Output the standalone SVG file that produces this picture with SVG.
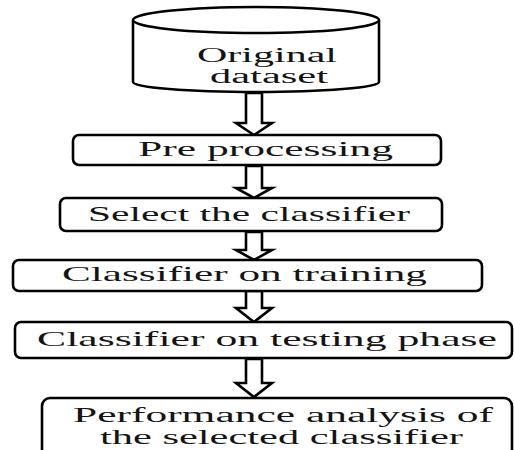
<svg xmlns="http://www.w3.org/2000/svg" width="514" height="450" viewBox="0 0 514 450">
<style>
.box{fill:#fff;stroke:#000;stroke-width:2.6}
.arr{fill:#fff;stroke:#000;stroke-width:2.6;stroke-linejoin:miter}
.t{font-family:"Liberation Serif","Times New Roman",serif;font-size:21px;fill:#141414}
.t2{font-size:20px}
</style>
<rect width="514" height="450" fill="#fff"/>
<g id="original-dataset">
<path class="box" d="M133,20 V82 A123,10 0 0 0 379,82 V20"/>
<ellipse class="box" cx="256" cy="20" rx="123" ry="13"/>
<text class="t t2" x="197" y="62" textLength="140" lengthAdjust="spacingAndGlyphs">Original</text>
<text class="t t2" x="210" y="83" textLength="118" lengthAdjust="spacingAndGlyphs">dataset</text>
</g>
<g id="connectors">
<polygon class="arr" points="246,93 262,93 262,123 272,123 254,135 236,123 246,123"/>
<polygon class="arr" points="246,166 262,166 262,188 272,188 254,198 236,188 246,188"/>
<polygon class="arr" points="246,232 262,232 262,250 272,250 254,260 236,250 246,250"/>
<polygon class="arr" points="246,291 262,291 262,308 272,308 254,322 236,308 246,308"/>
<polygon class="arr" points="246,359 262,359 262,383 272,383 254,397 236,383 246,383"/>
</g>
<g id="pre-processing">
<rect class="box" x="73" y="135" width="368" height="30" rx="6"/>
<text class="t" x="138" y="156" textLength="255" lengthAdjust="spacingAndGlyphs">Pre processing</text>
</g>
<g id="select-classifier">
<rect class="box" x="60" y="198" width="382" height="33" rx="6"/>
<text class="t" x="88" y="221" textLength="322" lengthAdjust="spacingAndGlyphs">Select the classifier</text>
</g>
<g id="classifier-training">
<rect class="box" x="13" y="260" width="469" height="31" rx="6"/>
<text class="t" x="62" y="281" textLength="365" lengthAdjust="spacingAndGlyphs">Classifier on training</text>
</g>
<g id="classifier-testing">
<rect class="box" x="15" y="322" width="497" height="36" rx="6"/>
<text class="t" x="37" y="346" textLength="460" lengthAdjust="spacingAndGlyphs">Classifier on testing phase</text>
</g>
<g id="performance-analysis">
<rect class="box" x="42" y="398" width="470" height="60" rx="8"/>
<text class="t t2" x="73" y="422" textLength="420" lengthAdjust="spacingAndGlyphs">Performance analysis of</text>
<text class="t t2" x="100" y="444" textLength="363" lengthAdjust="spacingAndGlyphs">the selected classifier</text>
</g>
</svg>
